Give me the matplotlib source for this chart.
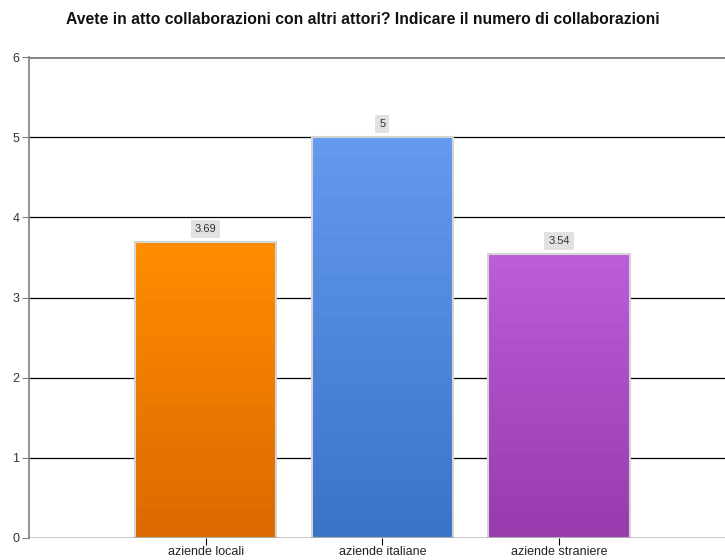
import matplotlib
matplotlib.use("Agg")
import matplotlib.pyplot as plt
import numpy as np
from matplotlib.colors import LinearSegmentedColormap

categories = ["aziende locali", "aziende italiane", "aziende straniere"]
values = [3.69, 5, 3.54]
labels = ["3.69", "5", "3.54"]
top_colors = ["#FF8C00", "#6399EE", "#BB5DD7"]
bottom_colors = ["#DC6A00", "#3A74C8", "#973BAD"]

plt.rcParams['font.family'] = ['Liberation Sans', 'DejaVu Sans']

fig = plt.figure(figsize=(7.25, 5.6), dpi=100)
ax = fig.add_axes([29/725, 22/560, 1 - 29/725, (538-57)/560])

x = np.arange(len(categories))
w = 0.8
nb = 20
for xi, v, tc, bc in zip(x, values, top_colors, bottom_colors):
    cmap = LinearSegmentedColormap.from_list("g", [bc, tc])
    grad = np.linspace(1, 0, nb).reshape(-1, 1)
    ax.imshow(grad, extent=[xi - w/2, xi + w/2, 0, v], aspect='auto',
              cmap=cmap, vmin=0, vmax=1, interpolation='nearest', zorder=2)
bars = ax.bar(x, values, width=w, fill=False, edgecolor="#D4D4D4", linewidth=1.5, zorder=3)
for xi, v, lab in zip(x, values, labels):
    ax.text(xi, v + 0.1, lab, ha='center', va='bottom', fontsize=8, color='#333333',
            bbox=dict(boxstyle='square,pad=0.35', facecolor='#E2E2E2', edgecolor='none'), zorder=4)

ax.set_xlim(-1, 2.94)
ax.set_ylim(0, 6)
ax.set_yticks(range(0, 7))
ax.set_yticklabels([str(i) for i in range(0, 7)], fontsize=9, color='#333333')
ax.set_xticks(x)
ax.set_xticklabels(categories, fontsize=9, color='#222222')
for yv in range(1, 6):
    ax.axhline(yv, color='black', linewidth=0.9, zorder=1)
ax.axhline(6, color='#808080', linewidth=2, zorder=1)
ax.axhline(0, color='black', linewidth=1, zorder=5)
for s in ['top', 'right', 'bottom']:
    ax.spines[s].set_visible(False)
ax.spines['left'].set_color('#808080')
ax.spines['left'].set_linewidth(1.2)
ax.tick_params(axis='y', length=5, color='#808080', pad=2)
ax.tick_params(axis='x', length=5, color='black', pad=1)

fig.text(0.5, 1 - 20/560, "Avete in atto collaborazioni con altri attori? Indicare il numero di collaborazioni",
         ha='center', va='center', fontsize=11.3, fontweight='bold', color='#111111')

fig.savefig("out.png", dpi=100)
